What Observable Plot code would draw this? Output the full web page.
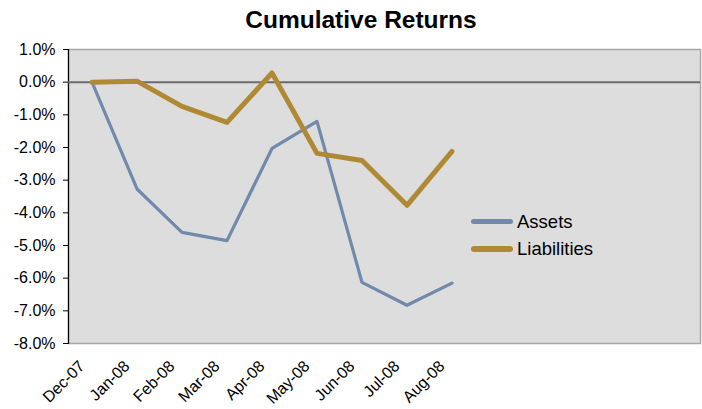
<!DOCTYPE html>
<html>
<head>
<meta charset="utf-8">
<script src="https://cdn.jsdelivr.net/npm/d3@7"></script>
<script src="https://cdn.jsdelivr.net/npm/@observablehq/plot@0.6"></script>
<style>
  body { margin: 0; background: #fff; font-family: "Liberation Sans", Arial, sans-serif; }
  #wrap { position: relative; width: 702px; height: 409px; overflow: hidden; }
  #title { height: 40px; line-height: 40px; text-align: center; font-weight: bold; font-size: 24.5px; padding-left: 20px; box-sizing: border-box; color: #000; }
  #legend { position: absolute; left: 471px; top: 208px; font-size: 18.5px; color: #000; }
  .item { display: flex; align-items: center; height: 27px; }
  .sw { width: 42px; margin-right: 4px; border-radius: 3px; }
</style>
</head>
<body>
<div id="wrap">
  <div id="title">Cumulative Returns</div>
  <div id="chart"></div>
  <div id="legend"></div>
</div>
<script>
const months = ["Dec-07","Jan-08","Feb-08","Mar-08","Apr-08","May-08","Jun-08","Jul-08","Aug-08"];
const emptySlots = ["_1","_2","_3","_4","_5"];
const assets = [0.0, -3.27, -4.6, -4.85, -2.03, -1.2, -6.13, -6.83, -6.15];
const liabilities = [0.0, 0.03, -0.74, -1.23, 0.28, -2.18, -2.4, -3.77, -2.12];
const yTicks = [1,0,-1,-2,-3,-4,-5,-6,-7,-8];
const seriesNames = ["Assets", "Liabilities"];
const seriesColors = ["#7189aa", "#b08935"];
const seriesWidths = [3.2, 5];

const rows = [];
months.forEach((m, i) => {
  rows.push({month: m, value: assets[i], series: seriesNames[0]});
  rows.push({month: m, value: liabilities[i], series: seriesNames[1]});
});

const chart = Plot.plot({
  width: 702,
  height: 369,
  marginLeft: 68,
  marginRight: 2,
  marginTop: 9,
  marginBottom: 66,
  style: {fontFamily: "'Liberation Sans', Arial, sans-serif", fontSize: "16px", color: "#000", background: "transparent"},
  x: {type: "band", domain: months.concat(emptySlots), padding: 0},
  y: {domain: [-8, 1]},
  marks: [
    Plot.frame({fill: "#dddddd", stroke: "#a8a8a8", strokeWidth: 1.5}),
    Plot.frame({anchor: "left", stroke: "#000", strokeWidth: 1.2}),
    Plot.ruleY([0], {stroke: "#6b6b6b", strokeWidth: 2}),
    Plot.axisY({ticks: yTicks, tickFormat: d => d.toFixed(1) + "%", tickSize: 5, tickPadding: 8, fontSize: 16, label: null, stroke: "#000"}),
    Plot.axisX({tickFormat: d => months.includes(d) ? d : "", tickSize: 0, tickRotate: -45, tickPadding: 20, fontSize: 16, label: null, dx: -10}),
    Plot.line(rows.filter(r => r.series === "Assets"), {x: "month", y: "value", stroke: seriesColors[0], strokeWidth: seriesWidths[0], strokeLinejoin: "round"}),
    Plot.line(rows.filter(r => r.series === "Liabilities"), {x: "month", y: "value", stroke: seriesColors[1], strokeWidth: seriesWidths[1], strokeLinejoin: "round"})
  ]
});
document.getElementById("chart").appendChild(chart);

const legend = document.getElementById("legend");
seriesNames.forEach((name, i) => {
  const item = document.createElement("div");
  item.className = "item";
  const sw = document.createElement("div");
  sw.className = "sw";
  sw.style.height = (seriesWidths[i] + 1) + "px";
  sw.style.background = seriesColors[i];
  const t = document.createElement("span");
  t.textContent = name;
  item.appendChild(sw);
  item.appendChild(t);
  legend.appendChild(item);
});
</script>
</body>
</html>
